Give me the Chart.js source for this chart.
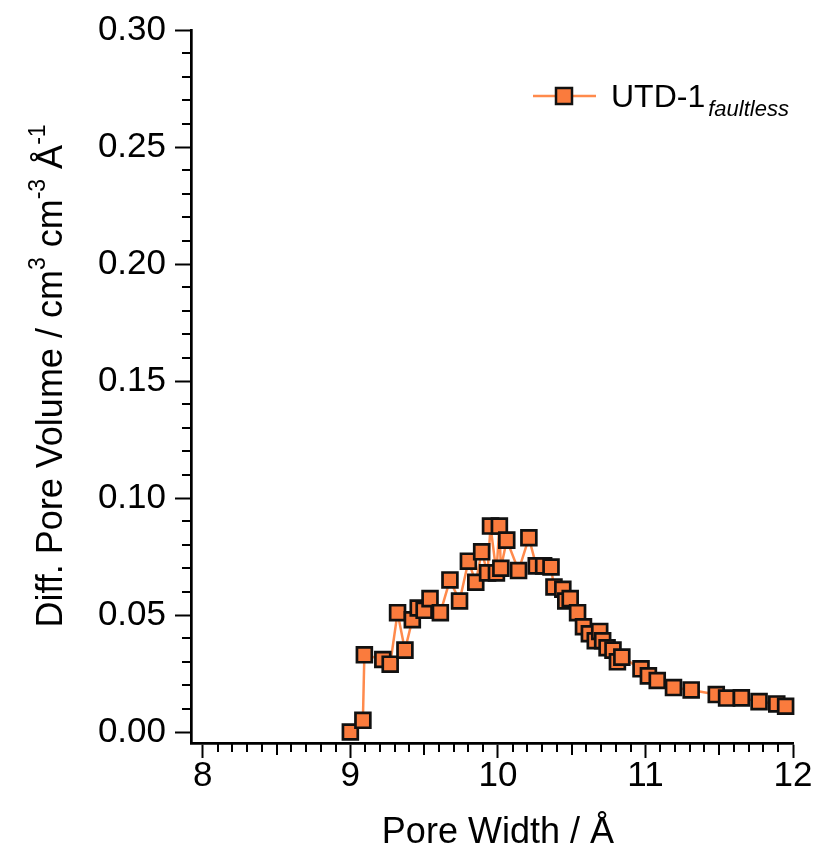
<!DOCTYPE html>
<html>
<head>
<meta charset="utf-8">
<script src="https://cdn.jsdelivr.net/npm/chart.js@4.4.0/dist/chart.umd.min.js"></script>
<style>
  html, body { margin: 0; padding: 0; background: #fff; }
  #wrap { width: 817px; height: 849px; }
</style>
</head>
<body>
<div id="wrap"><canvas id="c" width="817" height="849"></canvas></div>
<script>
// ---- data ----
const poreWidth = [9.00, 9.085, 9.095, 9.22, 9.27, 9.32, 9.37, 9.42, 9.46, 9.50, 9.54, 9.61, 9.675, 9.74, 9.80, 9.85, 9.89, 9.93, 9.95, 9.99, 10.01, 10.02, 10.06, 10.14, 10.21, 10.26, 10.31, 10.36, 10.38, 10.44, 10.46, 10.49, 10.54, 10.58, 10.62, 10.66, 10.69, 10.71, 10.74, 10.78, 10.81, 10.84, 10.97, 11.02, 11.08, 11.19, 11.31, 11.48, 11.55, 11.65, 11.77, 11.89, 11.95];
const diffPoreVolume = [0.000, 0.005, 0.033, 0.031, 0.029, 0.051, 0.035, 0.048, 0.053, 0.052, 0.057, 0.051, 0.065, 0.056, 0.073, 0.064, 0.077, 0.068, 0.088, 0.068, 0.088, 0.070, 0.082, 0.069, 0.083, 0.071, 0.071, 0.0705, 0.062, 0.061, 0.056, 0.057, 0.051, 0.045, 0.042, 0.039, 0.043, 0.039, 0.036, 0.035, 0.030, 0.032, 0.027, 0.024, 0.022, 0.019, 0.018, 0.016, 0.0145, 0.0146, 0.013, 0.012, 0.011];
const xTicks = [8, 9, 10, 11, 12];
const yTicks = [0.00, 0.05, 0.10, 0.15, 0.20, 0.25, 0.30];
const seriesName = 'UTD-1';
const seriesSub = 'faultless';
const xTitle = 'Pore Width / Å';

const FONT = '"Liberation Sans", Arial, Helvetica, sans-serif';
const ORANGE = '#FA7B3D';
const LINE = '#FF8A4C';

const points = poreWidth.map((x, i) => ({ x: x, y: diffPoreVolume[i] }));

// minor ticks + titles + legend drawn with the chart's own scales
const decor = {
  id: 'decor',
  afterDraw(chart) {
    const ctx = chart.ctx;
    const xs = chart.scales.x, ys = chart.scales.y;
    const area = chart.chartArea;
    ctx.save();
    ctx.strokeStyle = '#000';
    ctx.lineWidth = 2;
    // x minor ticks
    for (let k = 80; k <= 120; k++) {
      if (k % 10 === 0) continue;
      const v = k / 10;
      const px = Math.round(xs.getPixelForValue(v));
      const len = (k % 5 === 0) ? 12 : 9;
      ctx.beginPath();
      ctx.moveTo(px, area.bottom);
      ctx.lineTo(px, area.bottom + len);
      ctx.stroke();
    }
    // y minor ticks
    for (let k = 0; k <= 30; k++) {
      if (k % 5 === 0) continue;
      const v = k / 100;
      const py = Math.round(ys.getPixelForValue(v));
      ctx.beginPath();
      ctx.moveTo(area.left, py);
      ctx.lineTo(area.left - 9, py);
      ctx.stroke();
    }
    // x title, centred on the 8..12 span
    ctx.fillStyle = '#000';
    ctx.font = '36px ' + FONT;
    ctx.textAlign = 'center';
    ctx.textBaseline = 'alphabetic';
    const cx = (xs.getPixelForValue(xTicks[0]) + xs.getPixelForValue(xTicks[xTicks.length - 1])) / 2;
    ctx.fillText(xTitle, cx, 843);

    // y title with superscripts
    const segs = [
      ['Diff. Pore Volume / cm', false], ['3', true], [' cm', false], ['-3', true], [' Å', false], ['-1', true]
    ];
    const big = '36px ' + FONT, small = '23px ' + FONT;
    let total = 0;
    segs.forEach(s => { ctx.font = s[1] ? small : big; total += ctx.measureText(s[0]).width; });
    ctx.translate(62, 376);
    ctx.rotate(-Math.PI / 2);
    ctx.textAlign = 'left';
    let pos = -total / 2;
    segs.forEach(s => {
      ctx.font = s[1] ? small : big;
      ctx.fillText(s[0], pos, s[1] ? -17 : 0);
      pos += ctx.measureText(s[0]).width;
    });
    ctx.restore();

    // legend
    ctx.save();
    const ly = 96;
    ctx.strokeStyle = LINE;
    ctx.lineWidth = 2.5;
    ctx.beginPath(); ctx.moveTo(533, ly); ctx.lineTo(596, ly); ctx.stroke();
    ctx.fillStyle = ORANGE;
    ctx.strokeStyle = '#111';
    ctx.lineWidth = 2.5;
    ctx.fillRect(556, ly - 8, 16, 16);
    ctx.strokeRect(556, ly - 8, 16, 16);
    ctx.fillStyle = '#000';
    ctx.font = '32px ' + FONT;
    ctx.textAlign = 'left';
    ctx.fillText(seriesName, 611, 107);
    const w = ctx.measureText(seriesName).width;
    ctx.font = 'italic 22px ' + FONT;
    ctx.fillText(seriesSub, 611 + w + 3, 116);
    ctx.restore();
  }
};

new Chart(document.getElementById('c'), {
  type: 'scatter',
  data: {
    datasets: [{
      label: seriesName + ' ' + seriesSub,
      data: points,
      showLine: true,
      borderColor: LINE,
      borderWidth: 2.5,
      backgroundColor: ORANGE,
      pointStyle: 'rect',
      pointRadius: 10.5,
      pointHoverRadius: 10.5,
      pointBorderColor: '#111',
      pointBorderWidth: 2.7,
      pointBackgroundColor: ORANGE,
      clip: false,
      tension: 0
    }]
  },
  options: {
    responsive: false,
    animation: false,
    events: [],
    layout: { padding: { top: 29, right: 24, left: 0, bottom: 0 } },
    plugins: { legend: { display: false }, tooltip: { enabled: false } },
    scales: {
      x: {
        type: 'linear',
        min: 7.92, max: 12,
        afterBuildTicks: s => { s.ticks = xTicks.map(v => ({ value: v })); },
        afterFit: s => { s.height = 106; },
        ticks: {
          autoSkip: false, maxRotation: 0, padding: -3,
          color: '#000',
          font: { family: FONT, size: 35 },
          callback: v => String(v)
        },
        grid: { drawOnChartArea: false, drawTicks: true, tickLength: 15, tickWidth: 2, tickColor: '#000' },
        border: { display: true, color: '#000', width: 2.7 }
      },
      y: {
        type: 'linear',
        min: -0.00469, max: 0.30,
        afterBuildTicks: s => { s.ticks = yTicks.map(v => ({ value: v })); },
        afterFit: s => { s.width = 191; },
        ticks: {
          autoSkip: false, padding: 9,
          color: '#000',
          font: { family: FONT, size: 35 },
          callback: v => Number(v).toFixed(2)
        },
        grid: { drawOnChartArea: false, drawTicks: true, tickLength: 16, tickWidth: 2, tickColor: '#000' },
        border: { display: true, color: '#000', width: 2.7 }
      }
    }
  },
  plugins: [decor]
});
</script>
</body>
</html>
